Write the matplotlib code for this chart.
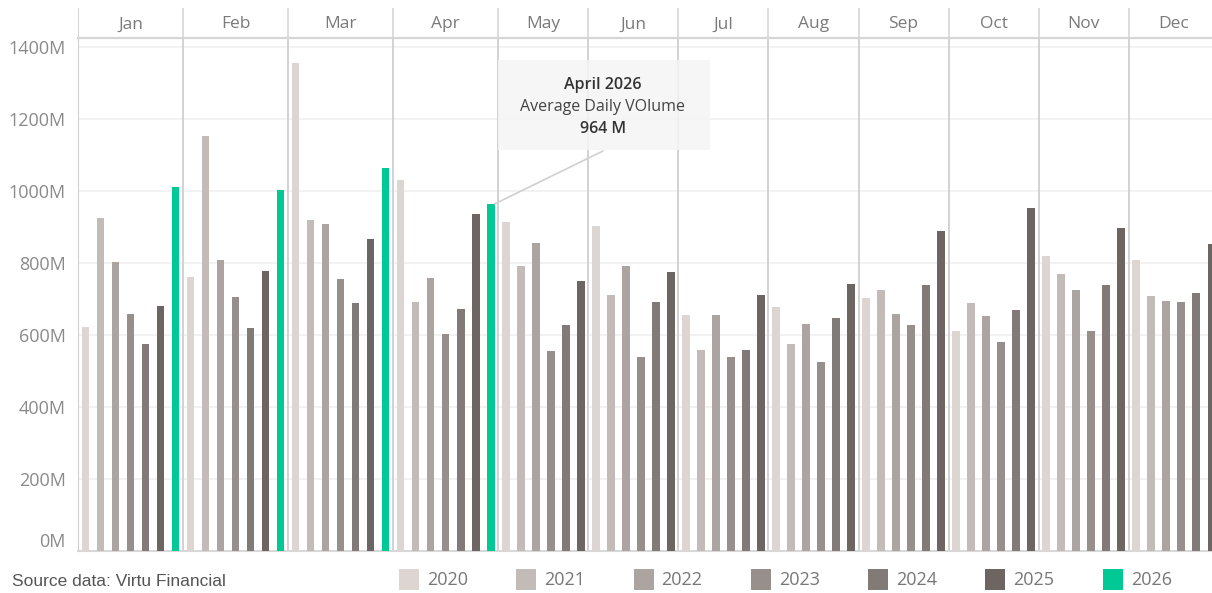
import matplotlib
matplotlib.use('Agg')
import matplotlib.pyplot as plt
from matplotlib.patches import Rectangle

# monthly average daily volume (millions)
months = ['Jan', 'Feb', 'Mar', 'Apr', 'May', 'Jun', 'Jul', 'Aug', 'Sep', 'Oct', 'Nov', 'Dec']
years = ['2020', '2021', '2022', '2023', '2024', '2025', '2026']
vol_2020 = [623, 760, 1355, 1031, 914, 904, 656, 679, 703, 611, 819, 809]
vol_2021 = [924, 1153, 920, 692, 793, 712, 559, 575, 726, 689, 770, 708]
vol_2022 = [804, 809, 908, 757, 855, 793, 656, 630, 659, 654, 726, 695]
vol_2023 = [659, 705, 755, 604, 555, 540, 540, 526, 628, 581, 611, 692]
vol_2024 = [575, 620, 689, 673, 628, 692, 559, 647, 739, 670, 739, 718]
vol_2025 = [680, 778, 868, 937, 751, 775, 712, 742, 889, 954, 898, 854]
vol_2026 = [1012, 1002, 1064, 964]
yticks = [0, 200, 400, 600, 800, 1000, 1200, 1400]

colors = ['#dcd5d2', '#c3bbb7', '#aca4a0', '#978f8b', '#827a77', '#6d6562', '#00c995']
series = [vol_2020, vol_2021, vol_2022, vol_2023, vol_2024, vol_2025, vol_2026]

plt.rcParams['font.family'] = ['Open Sans', 'DejaVu Sans']

W, H = 1212, 593
fig = plt.figure(figsize=(W / 100, H / 100), dpi=100)
fig.patch.set_facecolor('white')

def fx(px):
    return px / W

def fy(py):
    return (H - py) / H

ax = fig.add_axes([fx(78), fy(551), 1 - fx(78), (551 - 38) / H])
hax = fig.add_axes([fx(78), fy(38), 1 - fx(78), 30 / H])

# slot layout: each month holds one slot per year it has data for
starts = []
s = 0
for m in range(12):
    starts.append(s)
    s += sum(1 for v in series if m < len(v))
xmax = (W - 78) / 15.01

for k, vals in enumerate(series):
    xs = [starts[m] + k + 0.5 for m in range(len(vals))]
    ax.bar(xs, vals, width=0.5, color=colors[k], edgecolor='none', zorder=3)

ax.set_xlim(0, xmax)
ax.set_ylim(0, 1425)
ax.set_yticks(yticks)
ax.set_yticklabels([f'{t}M' for t in yticks], color='#8a8a8a', fontsize=13)
ax.tick_params(axis='y', length=0, pad=9)
ax.tick_params(axis='x', bottom=False, labelbottom=False)
lbl0 = ax.get_yticklabels()[0]
lbl0.set_va('bottom')
for t in yticks[1:]:
    ax.axhline(t, color='#f0f0f0', lw=1.2, zorder=1)
for sp in ['top', 'right']:
    ax.spines[sp].set_visible(False)
ax.spines['left'].set_color('#cfcfcf')
ax.spines['bottom'].set_color('#d8d8d8')
ax.spines['bottom'].set_linewidth(1.5)

bounds = starts[1:]
for b in bounds:
    ax.axvline(b, color='#cfcfcf', lw=1.3, zorder=2)
    hax.axvline(b, color='#d6d6d6', lw=1.2)

# header with month names
hax.set_xlim(0, xmax)
hax.set_ylim(0, 1)
hax.set_xticks([])
hax.set_yticks([])
for sp in ['top', 'right']:
    hax.spines[sp].set_visible(False)
hax.spines['left'].set_color('#d6d6d6')
hax.spines['bottom'].set_color('#d6d6d6')
hax.spines['bottom'].set_linewidth(1.6)
ends = starts[1:] + [starts[-1] + 6]
for m, name in enumerate(months):
    hax.text((starts[m] + ends[m]) / 2, 0.45, name, ha='center', va='center',
             fontsize=12.5, color='#7a7a7a')

# callout for April 2026
box = Rectangle((fx(498), fy(150)), fx(710) - fx(498), (150 - 60) / H,
                transform=fig.transFigure, facecolor='#f5f5f5', alpha=0.85,
                edgecolor='none', zorder=5)
fig.patches.append(box)
ax.annotate('', xy=(starts[3] + 6 + 0.75, vol_2026[3]), xycoords='data',
            xytext=(fx(603), fy(151)), textcoords='figure fraction',
            arrowprops=dict(arrowstyle='-', color='#d0d0d0', lw=1.2,
                            shrinkA=0, shrinkB=0), zorder=4)
fig.text(fx(603), fy(85), 'April 2026', ha='center', va='center',
         fontsize=11.5, fontweight='semibold', color='#333333', zorder=6)
fig.text(fx(603), fy(107), 'Average Daily VOlume', ha='center', va='center',
         fontsize=11.5, color='#444444', zorder=6)
fig.text(fx(603), fy(129), f'{vol_2026[3]} M', ha='center', va='center',
         fontsize=11.5, fontweight='semibold', color='#333333', zorder=6)

# source note and legend
fig.text(fx(12), fy(581), 'Source data: Virtu Financial', ha='left', va='center',
         fontsize=12.5, color='#555555', family=['Liberation Sans', 'DejaVu Sans'])
for k, yr in enumerate(years):
    x0 = 399 + k * 117.3
    fig.patches.append(Rectangle((fx(x0), fy(590)), fx(20), 21 / H,
                                 transform=fig.transFigure, facecolor=colors[k],
                                 edgecolor='none'))
    fig.text(fx(x0 + 28), fy(580), yr, ha='left', va='center',
             fontsize=13, color='#777777')

fig.savefig('out.png', dpi=100)
